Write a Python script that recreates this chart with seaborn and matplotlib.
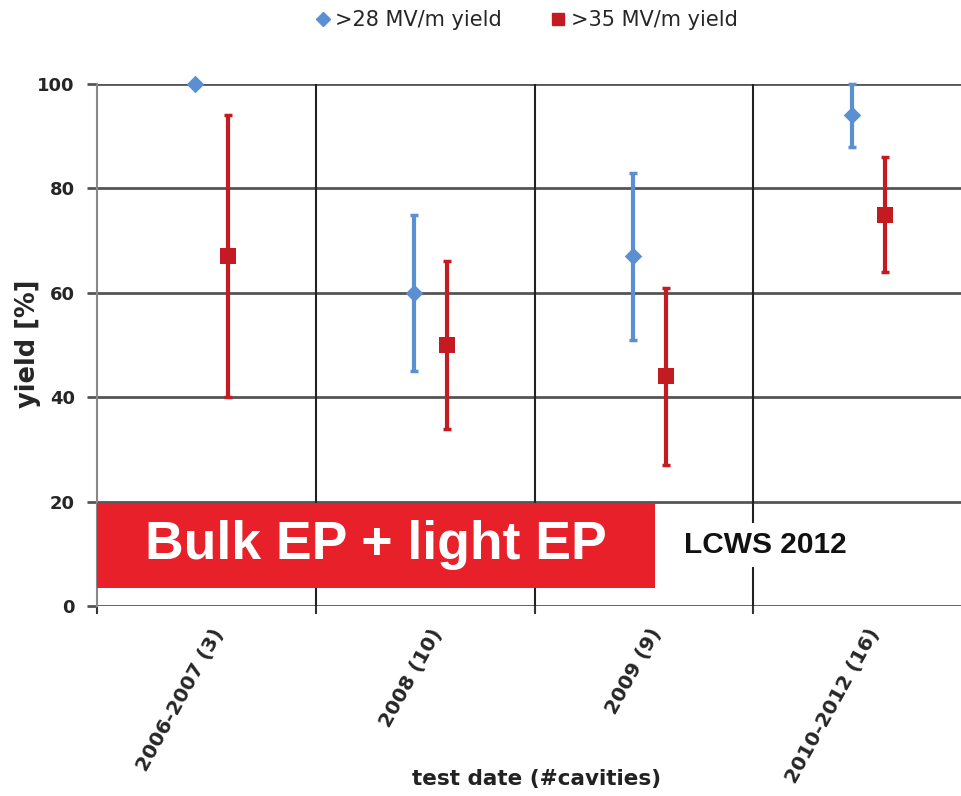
import matplotlib
matplotlib.use("Agg")
import matplotlib.pyplot as plt
from matplotlib.lines import Line2D
from matplotlib.patches import Rectangle
import numpy as np
import pandas as pd
import seaborn as sns

categories = ["2006-2007 (3)", "2008 (10)", "2009 (9)", "2010-2012 (16)"]
yield28 = [100, 60, 67, 94]
yield28_low = [100, 45, 51, 88]
yield28_high = [100, 75, 83, 100]
yield35 = [67, 50, 44, 75]
yield35_low = [40, 34, 27, 64]
yield35_high = [94, 66, 61, 86]
series_names = [">28 MV/m yield", ">35 MV/m yield"]
y_ticks = [0, 20, 40, 60, 80, 100]

BLUE = "#5A8FD2"
RED = "#C41A22"
BOX_RED = "#E8202A"

sns.set_theme(style="white")
plt.rcParams["font.family"] = ["Liberation Sans Narrow", "DejaVu Sans Condensed", "DejaVu Sans"]

fig = plt.figure(figsize=(9.61, 7.96), dpi=100)
ax = fig.add_axes([97 / 961, 1 - 606 / 796, 875 / 961, 522 / 796])

idx = np.arange(len(categories))
df = pd.DataFrame({
    "x": np.concatenate([idx + 0.45, idx + 0.60]),
    "y": yield28 + yield35,
    "lo": yield28_low + yield35_low,
    "hi": yield28_high + yield35_high,
    "series": [series_names[0]] * 4 + [series_names[1]] * 4,
})

for name, color, marker, size in zip(series_names, [BLUE, RED], ["D", "s"], [80, 135]):
    sub = df[df["series"] == name]
    yerr = np.vstack([sub["y"] - sub["lo"], sub["hi"] - sub["y"]])
    ax.errorbar(sub["x"], sub["y"], yerr=yerr, fmt="none", ecolor=color,
                elinewidth=3, capsize=3, capthick=2.5, clip_on=False, zorder=3)
    sns.scatterplot(data=sub, x="x", y="y", color=color, marker=marker,
                    s=size, linewidth=0, legend=False, ax=ax,
                    clip_on=False, zorder=4)

ax.set_xlim(0, 4)
ax.set_ylim(0, 100)
ax.set_yticks(y_ticks)
ax.grid(False)
for yv in y_ticks:
    ax.axhline(yv, color="#555555", lw=2, zorder=1)
for xv in [1, 2, 3]:
    ax.axvline(xv, color="#222222", lw=1.5, zorder=1)

for s in ["right", "top", "bottom"]:
    ax.spines[s].set_visible(False)
ax.spines["left"].set_visible(True)
ax.spines["left"].set_color("#888888")
ax.spines["left"].set_linewidth(1.5)

ax.tick_params(axis="y", which="major", length=7, width=2, color="#555555",
               labelsize=13, pad=9, left=True)
for lab in ax.get_yticklabels():
    lab.set_fontweight("bold")

# x-axis: boundary ticks (major) and labels at category positions (minor)
ax.set_xticks([0, 1, 2, 3, 4])
ax.set_xticklabels([])
ax.tick_params(axis="x", which="major", length=6, width=1.5, color="#333333", bottom=True)
ax.set_xticks(idx + 0.52, minor=True)
ax.set_xticklabels(categories, minor=True, rotation=61, ha="right",
                   rotation_mode="anchor", fontsize=14.5, fontweight="bold")
ax.tick_params(axis="x", which="minor", length=0, pad=14)

ax.set_ylabel("yield [%]", fontsize=18.5, fontweight="bold")
ax.yaxis.set_label_coords(-0.064, 0.502)
ax.set_xlabel("")
fig.text(537 / 961, 1 - 779 / 796, "test date (#cavities)", ha="center", va="center",
         fontsize=15.5, fontweight="bold", color="#222222")

handles = [Line2D([], [], marker="D", color=BLUE, ls="none", ms=7),
           Line2D([], [], marker="s", color=RED, ls="none", ms=9)]
fig.legend(handles, series_names, loc="center", bbox_to_anchor=(525 / 961, 1 - 20 / 796),
           ncol=2, frameon=False, fontsize=15, handletextpad=0.1, columnspacing=2.2,
           handlelength=1.0)

ax.add_patch(Rectangle((0, 0.0345), 0.638, 0.163, transform=ax.transAxes,
                       facecolor=BOX_RED, edgecolor="none", zorder=5, clip_on=False))
ax.text(0.319, 0.117, "Bulk EP + light EP", transform=ax.transAxes, ha="center",
        va="center", color="white", fontsize=38.5, fontweight="bold",
        family=["Liberation Sans", "DejaVu Sans"], zorder=6)
ax.text(0.764, 0.117, "LCWS 2012", transform=ax.transAxes, ha="center", va="center",
        color="#111111", fontsize=21.5, fontweight="bold",
        family=["Liberation Sans", "DejaVu Sans"], zorder=6,
        bbox=dict(facecolor="white", edgecolor="none", pad=6))

fig.savefig("out.png", dpi=100)
